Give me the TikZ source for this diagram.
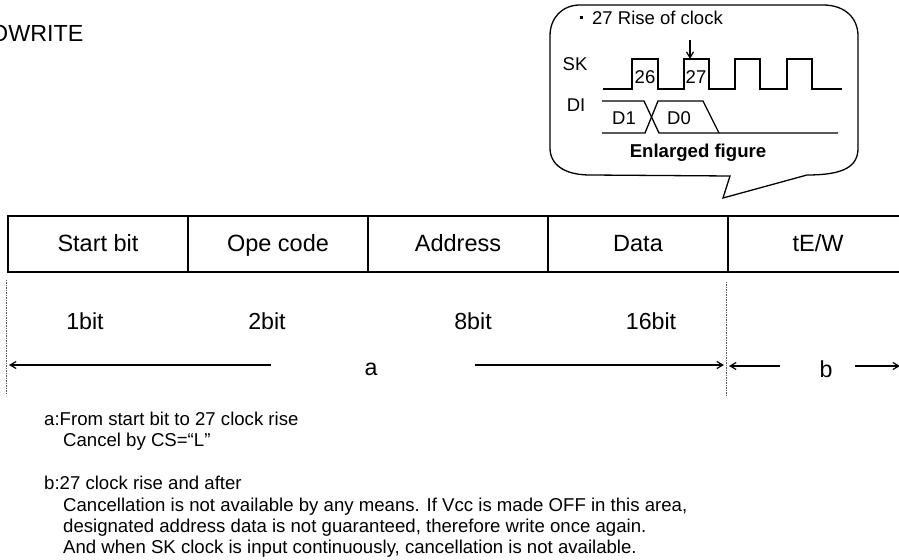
\documentclass[tikz,border=0pt]{standalone}
\usepackage{fontspec}
\setmainfont{Liberation Sans}
\usetikzlibrary{arrows.meta}
\tikzset{
  cell/.style={draw=black,line width=1.7bp,outer sep=0pt,minimum height=56bp,inner sep=0pt,anchor=north west,text height=20bp,text depth=4bp,font=\fontsize{23.5bp}{26bp}\selectfont},
  big/.style={inner sep=0pt,text height=20bp,text depth=4bp,font=\fontsize{23.2bp}{26bp}\selectfont},
  small/.style={inner sep=0pt,text height=14bp,text depth=0bp,font=\fontsize{18.5bp}{21bp}\selectfont},
  note/.style={inner sep=0pt,anchor=base west,font=\fontsize{18.6bp}{21bp}\selectfont},
  wave/.style={line width=1.3bp,line join=miter},
  guide/.style={line width=0.8bp,dash pattern=on 1.5bp off 1bp,black!65},
  dim/.style={line width=1.2bp,-{Straight Barb[length=6bp,width=7bp]}},
}
\begin{document}
\begin{tikzpicture}[x=1bp,y=-1bp]
\useasboundingbox (0,0) rectangle (899,560);
\begin{scope}
\clip (0,0) rectangle (899,560);
\node[inner sep=0pt,anchor=base west,font=\fontsize{23.3bp}{26bp}\selectfont] (title) at (-10,42) {OWRITE};
\end{scope}

% callout
\draw[line width=1.3bp,line join=miter] (580,5) -- (823,5)
  .. controls (845,5) and (858,18) .. (858,36) -- (858,148)
  .. controls (858,166) and (845,175) .. (807,175)
  -- (723,198) -- (730,176) -- (590,175)
  .. controls (565,175) and (550,165) .. (550,148) -- (550,36)
  .. controls (550,18) and (562,5) .. (580,5) -- cycle;
\node[inner sep=0pt,anchor=base west,font=\fontsize{18.5bp}{21bp}\selectfont] (rise) at (580,25) {\raisebox{5.5bp}{\rule{3bp}{3bp}}\hspace{9bp}27 Rise of clock};
\node[small] (sk) at (575,64) {SK};
\node[small] (di) at (576,105) {DI};
\node[small] (n26) at (645,77) {26};
\node[small] (n27) at (696,77) {27};
\node[small] (d1) at (624,118) {D1};
\node[small] (d0) at (679,118) {D0};
\node[small,font=\fontsize{18.6bp}{21bp}\selectfont\bfseries] (enl) at (698,151) {Enlarged figure};
\draw[wave] (603,89) -- (632,89) -- (632,59) -- (658,59) -- (658,89) -- (684,89) -- (684,59) -- (709,59) -- (709,89) -- (735,89) -- (735,59) -- (760,59) -- (760,89) -- (787,89) -- (787,59) -- (812,59) -- (812,89) -- (842,89);
\draw[wave] (602,101) -- (644,101) -- (659,133) -- (838,133);
\draw[wave] (602,133) -- (645,133) -- (658,101) -- (703,101) -- (719,133);
\coordinate (pt) at (690,59);
\coordinate (pf) at (690,40);
\draw[dim] (pf) -- (pt);

% table
\node[cell,minimum width=180bp] (start) at (8,216) {Start bit};
\node[cell,minimum width=180bp] (ope) at (188,216) {Ope code};
\node[cell,minimum width=180bp] (addr) at (368,216) {Address};
\node[cell,minimum width=180bp] (data) at (548,216) {Data};
\coordinate (tr) at (900,216);
\coordinate (br) at (900,272);
\draw[line width=1.7bp] (data.north east) -- (tr);
\draw[line width=1.7bp] (data.south east) -- (br);
\node[big,font=\fontsize{23.5bp}{26bp}\selectfont] (tew) at (818,244) {tE/W};

\node[big] (b1) at (85,321) {1bit};
\node[big] (b2) at (267,321) {2bit};
\node[big] (b8) at (473,321) {8bit};
\node[big] (b16) at (651,321) {16bit};

% guides
\coordinate (g1) at (6,280); \coordinate (g2) at (6,395);
\coordinate (g3) at (726,282); \coordinate (g4) at (726,397);
\draw[guide] (g1) -- (g2);
\draw[guide] (g3) -- (g4);

% dimensions
\node[big] (a) at (371,367) {a};
\node[big] (b) at (826,369) {b};
\coordinate (a1) at (271,365); \coordinate (a2) at (9,365);
\coordinate (a3) at (475,365); \coordinate (a4) at (724,365);
\coordinate (b1s) at (780,366); \coordinate (b2s) at (729,366);
\coordinate (b3s) at (855,366); \coordinate (b4s) at (900,366);
\draw[dim] (a1) -- (a2);
\draw[dim] (a3) -- (a4);
\draw[dim] (b1s) -- (b2s);
\draw[dim] (b3s) -- (b4s);

% notes
\node[note] (n1) at (44,425) {a:From start bit to 27 clock rise};
\node[note] (n2) at (63,446) {Cancel by CS=“L”};
\node[note] (n3) at (44,489) {b:27 clock rise and after};
\node[note] (n4) at (63,511) {Cancellation is not available by any means. If Vcc is made OFF in this area,};
\node[note] (n5) at (63,532) {designated address data is not guaranteed, therefore write once again.};
\node[note] (n6) at (63,553) {And when SK clock is input continuously, cancellation is not available.};
\end{tikzpicture}
\end{document}
